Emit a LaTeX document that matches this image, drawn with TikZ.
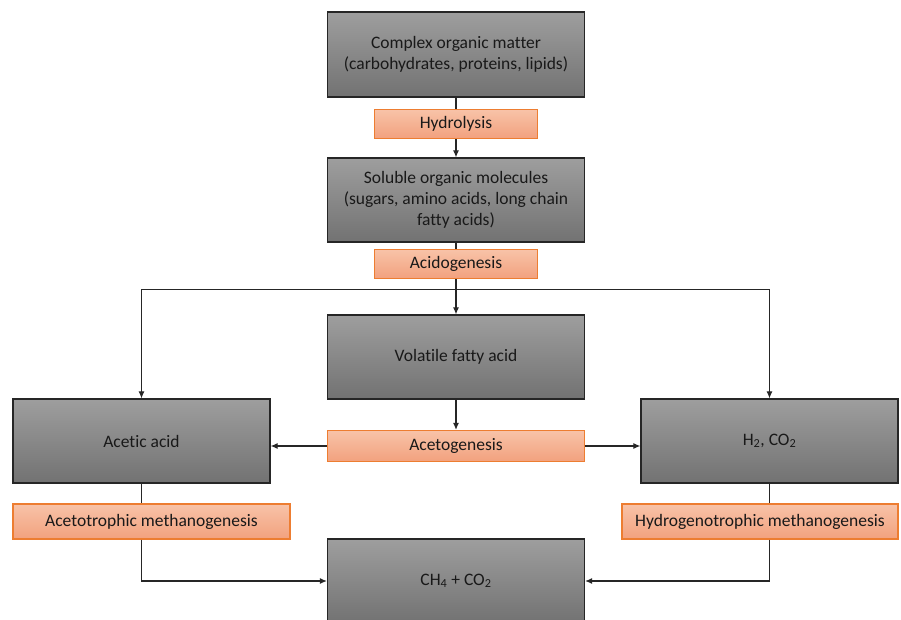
\documentclass[tikz,border=0pt]{standalone}
\usepackage{fontspec}
\setmainfont[Ligatures=NoCommon]{Carlito}
\usetikzlibrary{arrows.meta}

\definecolor{boxtop}{HTML}{9E9E9E}
\definecolor{boxbot}{HTML}{727272}
\definecolor{steptop}{HTML}{F8C3A8}
\definecolor{stepbot}{HTML}{F2A17E}
\definecolor{stepline}{HTML}{ED7D31}

\begin{document}
\begin{tikzpicture}[x=1pt, y=-1pt,
    every node/.style={font=\fontsize{17.5}{21}\selectfont, text=black!90, inner sep=0pt},
    stage/.style={draw=black!85, line width=1.2pt, top color=boxtop, bottom color=boxbot,
                  minimum width=257pt, minimum height=84pt, align=center},
    phase/.style={draw=stepline, line width=1.2pt, top color=steptop, bottom color=stepbot,
                  minimum height=29pt},
    arr/.style={-{Latex[length=7pt,width=6pt]}, line width=1.1pt, black!85},
    ln/.style={line width=1.1pt, black!85}]

            \useasboundingbox (0,0) rectangle (901,619);

            % boxes
            \node[stage, minimum height=85pt] (com) at (456,54.5) {Complex organic matter\\(carbohydrates, proteins, lipids)};
            \node[phase, minimum width=163pt] (hyd) at (456,124) {Hydrolysis};
            \node[stage] (sol) at (456,200) {Soluble organic molecules\\(sugars, amino acids, long chain\\fatty acids)};
            \node[phase, minimum width=163pt] (acd) at (456,264) {Acidogenesis};
            \node[stage] (vfa) at (456,357) {Volatile fatty acid};
            \node[phase, minimum width=257pt, minimum height=31pt] (acg) at (456,446) {Acetogenesis};
            \node[stage] (aa) at (141.5,441) {Acetic acid};
            \node[stage] (h2) at (769.5,441) {H\textsubscript{2}, CO\textsubscript{2}};
            \node[phase, minimum width=277pt, minimum height=35pt] (atm) at (151.5,521.5) {Acetotrophic methanogenesis};
            \node[phase, minimum width=276pt, minimum height=35pt] (htm) at (760,521.5) {Hydrogenotrophic methanogenesis};
            \node[stage] (ch4) at (456,581) {CH\textsubscript{4} + CO\textsubscript{2}};

            \coordinate (sp) at (456,289.5);

            % connectors
            \draw[ln] (com)--(hyd);
            \draw[arr] (hyd)--(sol);
            \draw[ln] (sol)--(acd);
            \draw[arr] (acd)--(vfa);
            \draw[arr] (sp) -| (aa.north);
            \draw[arr] (sp) -| (h2.north);
            \draw[arr] (vfa)--(acg);
            \draw[arr] (acg.west)--(acg.west -| aa.east);
            \draw[arr] (acg.east)--(acg.east -| h2.west);
            \draw[ln] (aa.south)--(aa.south |- atm.north);
            \draw[ln] (h2.south)--(h2.south |- htm.north);
            \draw[arr] (aa.south |- atm.south) |- (ch4.west);
            \draw[arr] (h2.south |- htm.south) |- (ch4.east);

        \end{tikzpicture}
\end{document}
